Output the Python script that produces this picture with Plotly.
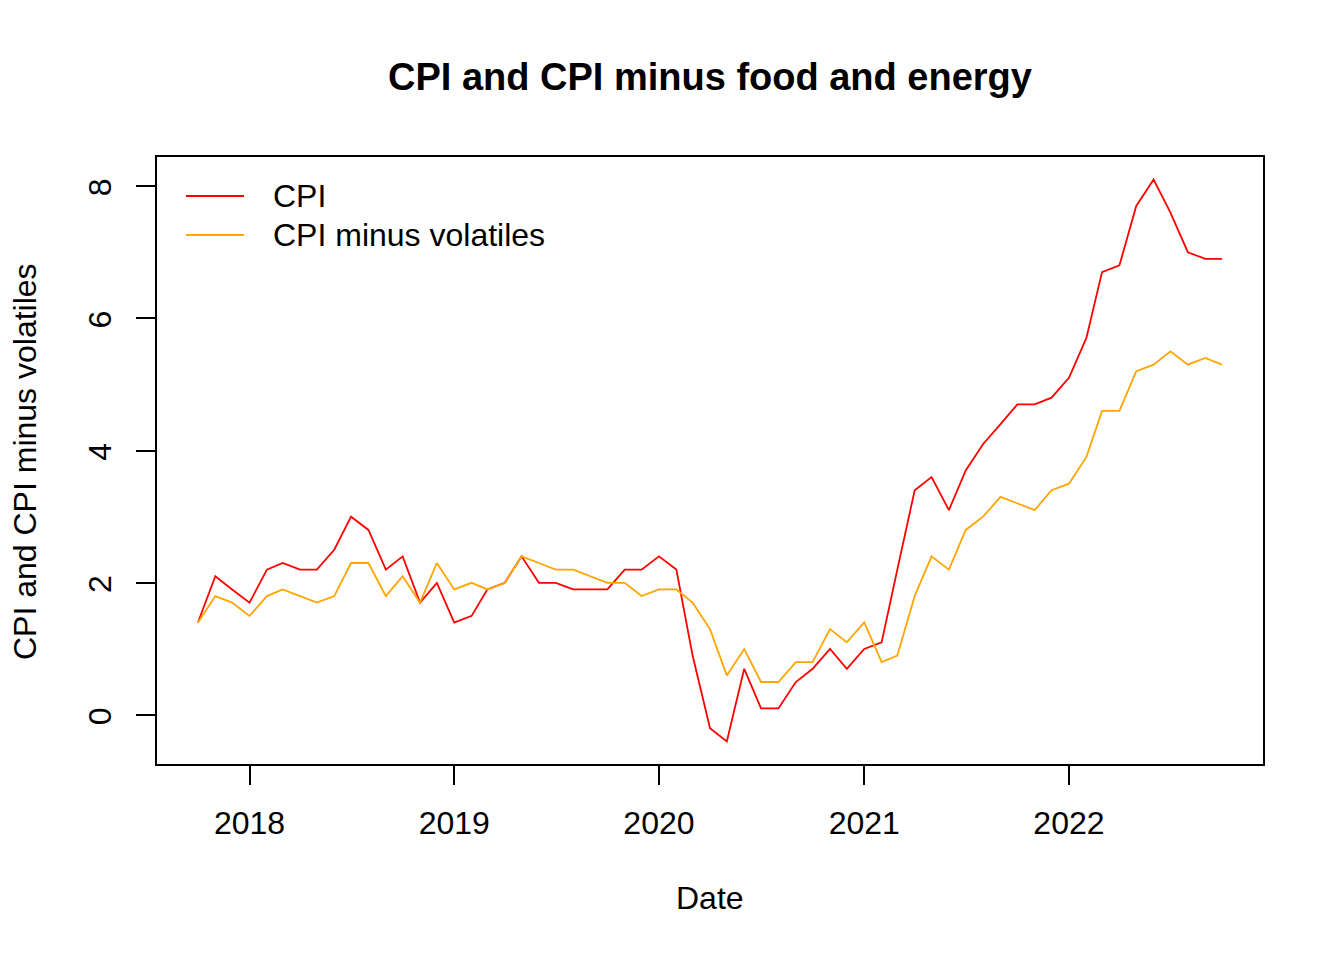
import pandas as pd
import plotly.graph_objects as go

# ---- data (monthly, Oct 2017 - Oct 2022) ----
dates = pd.date_range("2017-10-01", "2022-10-01", freq="MS")
cpi = [1.4, 2.1, 1.9, 1.7, 2.2, 2.3, 2.2, 2.2, 2.5, 3.0, 2.8, 2.2, 2.4, 1.7, 2.0,
       1.4, 1.5, 1.9, 2.0, 2.4, 2.0, 2.0, 1.9, 1.9, 1.9, 2.2, 2.2, 2.4, 2.2, 0.9,
       -0.2, -0.4, 0.7, 0.1, 0.1, 0.5, 0.7, 1.0, 0.7, 1.0, 1.1, 2.2, 3.4, 3.6, 3.1,
       3.7, 4.1, 4.4, 4.7, 4.7, 4.8, 5.1, 5.7, 6.7, 6.8, 7.7, 8.1, 7.6, 7.0, 6.9, 6.9]
cpi_core = [1.4, 1.8, 1.7, 1.5, 1.8, 1.9, 1.8, 1.7, 1.8, 2.3, 2.3, 1.8, 2.1, 1.7, 2.3,
            1.9, 2.0, 1.9, 2.0, 2.4, 2.3, 2.2, 2.2, 2.1, 2.0, 2.0, 1.8, 1.9, 1.9, 1.7,
            1.3, 0.6, 1.0, 0.5, 0.5, 0.8, 0.8, 1.3, 1.1, 1.4, 0.8, 0.9, 1.8, 2.4, 2.2,
            2.8, 3.0, 3.3, 3.2, 3.1, 3.4, 3.5, 3.9, 4.6, 4.6, 5.2, 5.3, 5.5, 5.3, 5.4, 5.3]
series_names = ["CPI", "CPI minus volatiles"]
series_colors = ["#FF0000", "#FFA500"]
x_tick_vals = ["2018-01-01", "2019-01-01", "2020-01-01", "2021-01-01", "2022-01-01"]
x_tick_text = ["2018", "2019", "2020", "2021", "2022"]
y_tick_vals = [0, 2, 4, 6, 8]
title_text = "CPI and CPI minus food and energy"
x_title = "Date"
y_title = "CPI and CPI minus volatiles"

W, H = 1344, 960
OFF = 8  # page offset of the figure in the screenshot
# plot box in screen pixels
BL, BR, BT, BB = 157, 1263, 157, 764
PW, PH = BR - BL, BB - BT
ML, MT = BL - OFF, BT - OFF
MR, MB = W - ML - PW, H - MT - PH
FONT = "Liberation Sans, Arial, Helvetica, sans-serif"


def px_x(px):
    return (px - BL) / PW


def px_y(py):
    return (BB - py) / PH


fig = go.Figure()
for vals, name, col in zip([cpi, cpi_core], series_names, series_colors):
    fig.add_trace(go.Scatter(x=dates, y=vals, mode="lines", name=name,
                             line=dict(color=col, width=1.8)))

axis_common = dict(showline=True, linecolor="black", linewidth=2, mirror=True,
                   ticks="outside", ticklen=19, tickwidth=2, tickcolor="black",
                   showgrid=False, zeroline=False,
                   tickfont=dict(size=32, color="black", family=FONT))

fig.update_xaxes(type="date", range=["2017-07-20", "2022-12-13"],
                 tickmode="array", tickvals=x_tick_vals, ticktext=x_tick_text,
                 ticklabelstandoff=11, **axis_common)
fig.update_yaxes(range=[-0.74, 8.44], tickmode="array", tickvals=y_tick_vals,
                 tickangle=-90, ticklabelstandoff=12, ticklabelshift=6,
                 **axis_common)

annotations = [
    dict(text="<b>%s</b>" % title_text, x=px_x(710), y=px_y(77), xref="paper", yref="paper",
         xanchor="center", yanchor="middle", showarrow=False,
         font=dict(size=38, color="black", family=FONT)),
    dict(text=x_title, x=px_x(710), y=px_y(898), xref="paper", yref="paper",
         xanchor="center", yanchor="middle", showarrow=False,
         font=dict(size=32, color="black", family=FONT)),
    dict(text=y_title, x=px_x(25), y=px_y(462), xref="paper", yref="paper",
         xanchor="center", yanchor="middle", showarrow=False, textangle=-90,
         font=dict(size=32, color="black", family=FONT)),
]
shapes = []
for i, (name, col) in enumerate(zip(series_names, series_colors)):
    yy = px_y(196 + 39 * i)
    shapes.append(dict(type="line", xref="paper", yref="paper",
                       x0=px_x(186), x1=px_x(244), y0=yy, y1=yy,
                       line=dict(color=col, width=1.8)))
    annotations.append(dict(text=name, x=px_x(271), y=yy, xref="paper", yref="paper",
                            xanchor="left", yanchor="middle", showarrow=False,
                            font=dict(size=32, color="black", family=FONT)))

fig.update_layout(width=W, height=H, autosize=False,
                  margin=dict(l=ML, r=MR, t=MT, b=MB, pad=0),
                  paper_bgcolor="white", plot_bgcolor="white",
                  showlegend=False, annotations=annotations, shapes=shapes,
                  font=dict(family=FONT, size=32, color="black"))

fig.write_html("out.html")
